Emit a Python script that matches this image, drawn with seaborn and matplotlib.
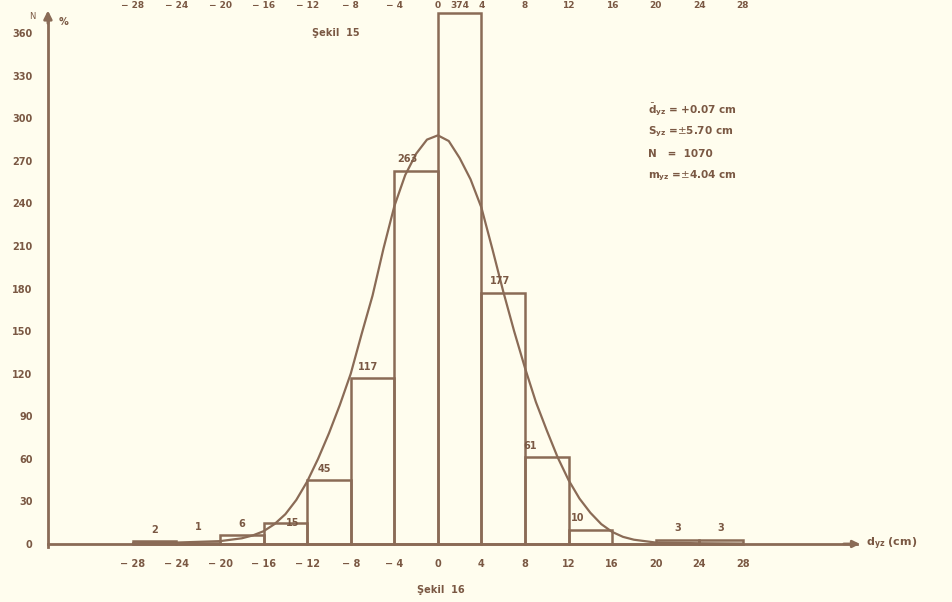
import numpy as np
import matplotlib
matplotlib.use("Agg")
import matplotlib.pyplot as plt
import seaborn as sns

# histogram of d_yz (cm), bins 4 cm wide
bin_edges = [-28, -24, -20, -16, -12, -8, -4, 0, 4, 8, 12, 16, 20, 24, 28]
counts = [2, 1, 6, 15, 45, 117, 263, 374, 177, 61, 10, 0, 3, 3]
count_labels = ["2", "1", "6", "15", "45", "117", "263", "374", "177", "61", "10", "", "3", "3"]

# hand drawn curve
curve_x = [-28, -24, -20, -18, -17, -16, -15, -14, -13, -12, -11, -10, -9, -8, -7, -6, -5, -4, -3, -2, -1, 0,
           1, 2, 3, 4, 5, 6, 7, 8, 9, 10, 11, 12, 13, 14, 15, 16, 17, 18, 20, 24, 28]
curve_n = [0.5, 1, 2, 4, 6, 9, 14, 21, 31, 44, 60, 78, 98, 120, 148, 175, 208, 238, 260, 275, 285, 288,
           284, 272, 257, 237, 208, 178, 150, 124, 100, 80, 61, 45, 32, 22, 14, 8.5, 5, 3, 1, 0.5, 0.3]

y_ticks = [0, 30, 60, 90, 120, 150, 180, 210, 240, 270, 300, 330, 360]
x_ticks = [-28, -24, -20, -16, -12, -8, -4, 0, 4, 8, 12, 16, 20, 24, 28]

stats_lines = [r"$\bar{\mathbf{d}}_{\mathbf{yz}}$ = +0.07 cm",
               r"$\mathbf{S}_{\mathbf{yz}}$ =$\pm$5.70 cm",
               "N   =  1070",
               r"$\mathbf{m}_{\mathbf{yz}}$ =$\pm$4.04 cm"]

bg = "#fffdee"
ink = "#8a6b56"
txt = "#7a5843"

sns.set_style("white")
plt.rcParams["font.family"] = ["DejaVu Sans"]
plt.rcParams["mathtext.fontset"] = "dejavusans"

fig = plt.figure(figsize=(9.52, 6.02), dpi=100, facecolor=bg)
ax = fig.add_axes([0, 0, 1, 1], facecolor=bg)

centers = [(bin_edges[i] + bin_edges[i + 1]) / 2 for i in range(len(counts))]
sns.histplot(x=centers, weights=counts, bins=bin_edges, fill=False, element="bars",
             color=ink, linewidth=1.8, ax=ax)
sns.lineplot(x=curve_x, y=curve_n, color=ink, linewidth=1.6, ax=ax)

# axis limits chosen so data maps onto the scanned page
ax.set_xlim(-40.2, 47.2)
ax.set_ylim(-40.9, 383.4)
ax.set_xlabel("")
ax.set_ylabel("")

for s in ["top", "right"]:
    ax.spines[s].set_visible(False)
ax.spines["left"].set_position(("data", -35.8))
ax.spines["bottom"].set_position(("data", 0))
ax.spines["left"].set_bounds(-2, 372)
ax.spines["bottom"].set_bounds(-35.8, 38.5)
ax.spines["left"].set_color(ink)
ax.spines["bottom"].set_color(ink)
ax.spines["left"].set_linewidth(2)
ax.spines["bottom"].set_linewidth(2)

ax.set_yticks(y_ticks)
ax.set_yticklabels([str(v) for v in y_ticks], fontsize=7, fontweight="bold", color=txt)
ax.tick_params(axis="y", direction="inout", length=6, width=1.5, color=ink, pad=8)
ax.set_xticks(x_ticks)
ax.set_xticklabels([str(v).replace("-", "− ") for v in x_ticks], fontsize=7,
                   fontweight="bold", color=txt)
ax.tick_params(axis="x", length=0, pad=11)

# arrow heads on the axes
ax.annotate("", xy=(-35.8, 378), xytext=(-35.8, 365),
            arrowprops=dict(arrowstyle="-|>", color=ink, lw=2, mutation_scale=12))
ax.annotate("", xy=(39.0, 0), xytext=(37.0, 0),
            arrowprops=dict(arrowstyle="-|>", color=ink, lw=2, mutation_scale=10))
ax.text(-37.2, 372, "N", fontsize=6, color=txt, ha="center", va="center")
ax.text(-34.4, 368, "%", fontsize=7, color=txt, ha="center", va="center", fontweight="bold")
ax.text(39.3, 0, r"$\mathbf{d}_{\mathbf{yz}}$ (cm)", fontsize=8, color=txt, ha="left", va="center",
        fontweight="bold")

# count labels above / inside each bar
offsets = {"15": (0.7, -8), "10": (-1.2, 0), "61": (-1.5, 0), "45": (-0.4, 0),
           "117": (-0.4, 0), "263": (-0.8, 0), "177": (-0.3, 0), "1": (0, 3)}
for i, lab in enumerate(count_labels):
    if not lab or lab == "374":
        continue
    dx, dy = offsets.get(lab, (0, 0))
    xc = centers[i] + dx
    ax.text(xc, counts[i] + 8 + dy, lab, fontsize=7, fontweight="bold", color=txt,
            ha="center", va="center")

# fragment of the figure above, along the page edge
for v in x_ticks:
    ax.text(v, 379.5, str(v).replace("-", "− "), fontsize=6.5, fontweight="bold", color=txt,
            ha="center", va="center")
ax.text(2.0, 379.5, "374", fontsize=6.5, fontweight="bold", color=txt, ha="center", va="center")

ax.text(-9.4, 360, "Şekil  15", fontsize=7, fontweight="bold", color=txt, ha="center", va="center")
ax.text(0.3, -32.5, "Şekil  16", fontsize=7, fontweight="bold", color=txt, ha="center", va="center")

for k, line in enumerate(stats_lines):
    ax.text(19.3, 306 - k * 15.5, line, fontsize=7.5, fontweight="bold", color=txt,
            ha="left", va="center")

fig.savefig("out.png", dpi=100, facecolor=bg)
